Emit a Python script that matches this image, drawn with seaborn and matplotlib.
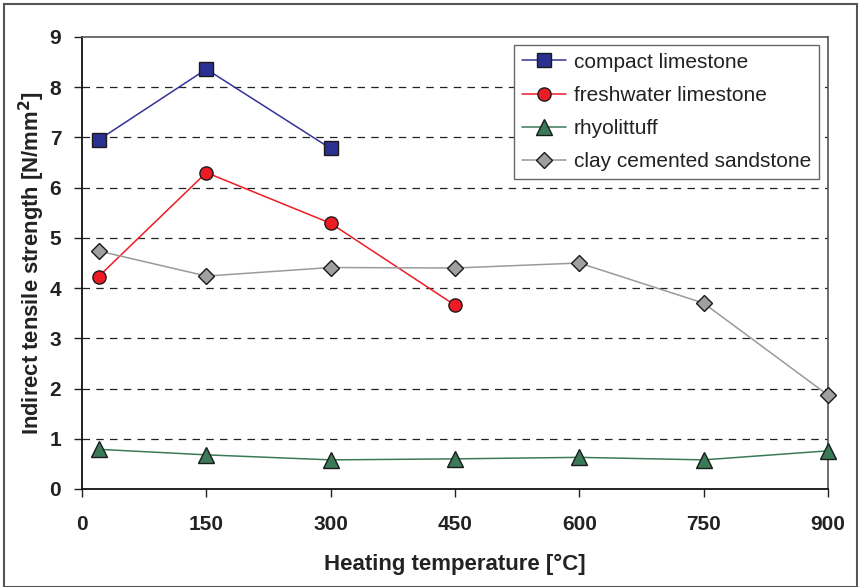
import matplotlib
matplotlib.use("Agg")
import matplotlib.pyplot as plt
import seaborn as sns
import pandas as pd
from matplotlib.patches import Rectangle

# ---- data ----
temps_compact = [20, 150, 300]
compact_limestone = [6.95, 8.36, 6.78]
temps_fresh = [20, 150, 300, 450]
freshwater_limestone = [4.23, 6.30, 5.29, 3.66]
temps_all = [20, 150, 300, 450, 600, 750, 900]
rhyolittuff = [0.79, 0.68, 0.58, 0.60, 0.63, 0.58, 0.76]
clay_sandstone = [4.74, 4.24, 4.41, 4.40, 4.50, 3.70, 1.87]
series_names = ["compact limestone", "freshwater limestone", "rhyolittuff",
                "clay cemented sandstone"]
x_ticks = [0, 150, 300, 450, 600, 750, 900]
y_ticks = [0, 1, 2, 3, 4, 5, 6, 7, 8, 9]

rows = []
for name, xs, ys in zip(series_names,
                        [temps_compact, temps_fresh, temps_all, temps_all],
                        [compact_limestone, freshwater_limestone, rhyolittuff, clay_sandstone]):
    for x, y in zip(xs, ys):
        rows.append({"temp": x, "value": y, "series": name})
df = pd.DataFrame(rows)

sns.set_theme(style="white")
plt.rcParams["font.family"] = ["Liberation Sans", "DejaVu Sans"]

fig = plt.figure(figsize=(8.58, 5.87), dpi=100)
ax = fig.add_axes([82/858, 1-489/587, (828-82)/858, (489-37)/587])

styles = {
    "compact limestone": dict(line="#333399", face="#2B3192", marker="s", ms=9.5),
    "freshwater limestone": dict(line="#ED1C24", face="#ED1C24", marker="o", ms=9.5),
    "rhyolittuff": dict(line="#3B7A57", face="#3B7A57", marker="^", ms=11),
    "clay cemented sandstone": dict(line="#9A9A9A", face="#A0A0A0", marker="D", ms=8.5),
}

for name in series_names:
    st = styles[name]
    sub = df[df["series"] == name]
    sns.lineplot(data=sub, x="temp", y="value", ax=ax, color=st["line"],
                 marker=st["marker"], markersize=st["ms"],
                 markerfacecolor=st["face"], markeredgecolor="#1a1a1a",
                 markeredgewidth=1.0, linewidth=1.1, label=name,
                 estimator=None, sort=False, clip_on=False, zorder=3)

ax.set_xlim(0, 900)
ax.set_ylim(0, 9)
ax.set_xticks(x_ticks)
ax.set_yticks(y_ticks)
ax.set_xticklabels([str(t) for t in x_ticks], fontsize=15, fontweight="bold", color="#222222")
ax.set_yticklabels([str(t) for t in y_ticks], fontsize=15, fontweight="bold", color="#222222")
ax.tick_params(axis="both", direction="out", length=6, width=1, color="#222222",
               bottom=True, left=True)
ax.tick_params(axis="y", pad=9)
ax.tick_params(axis="x", pad=13)

for y in range(1, 9):
    ax.axhline(y, color="#222222", lw=0.9, ls=(0, (6, 5)), zorder=0)

for s in ["left", "bottom"]:
    ax.spines[s].set_color("#111111")
    ax.spines[s].set_linewidth(1.3)
for s in ["top", "right"]:
    ax.spines[s].set_color("#555555")
    ax.spines[s].set_linewidth(1.2)
    ax.spines[s].set_visible(True)

ax.set_xlabel("Heating temperature [°C]", fontsize=16, fontweight="bold", labelpad=14,
              color="#222222")
ax.set_ylabel("Indirect tensile strength [N/mm$^\\mathbf{2}$]", fontsize=15.8,
              fontweight="bold", labelpad=2, color="#222222")

leg = ax.legend(loc="upper right", bbox_to_anchor=(0.9875, 0.982), fontsize=15,
                frameon=True, fancybox=False, edgecolor="#666666", borderpad=0.36,
                handlelength=2.1, labelspacing=0.68, handletextpad=0.4, borderaxespad=0,
                framealpha=1)
leg.get_frame().set_linewidth(1.0)
for t in leg.get_texts():
    t.set_color("#222222")

fig.patches.append(Rectangle((4/858, 0.0), 1 - 5/858, 1 - 4/587, transform=fig.transFigure,
                             fill=False, edgecolor="#555555", lw=1.5))

fig.savefig("out.png", dpi=100)
